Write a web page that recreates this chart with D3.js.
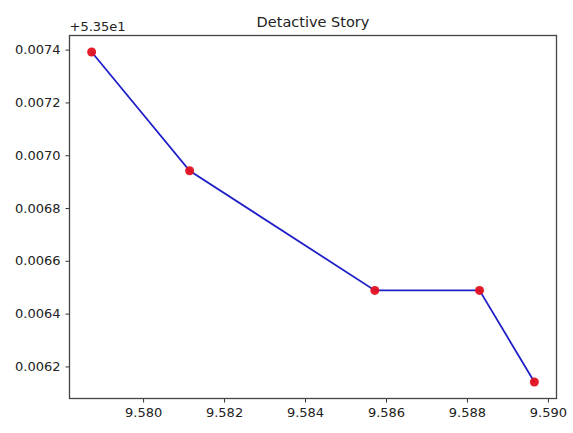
<!DOCTYPE html>
<html><head><meta charset="utf-8">
<script src="https://cdn.jsdelivr.net/npm/d3@7"></script>
<style>body{margin:0;background:#fff}svg{display:block}text{font-family:"DejaVu Sans",sans-serif}</style>
</head><body>
<script>
const title = "Detactive Story";
const offsetLabel = "+5.35e1";
const yOffset = 53.5;
const xValues = [9.578729, 9.581150, 9.585724, 9.588310, 9.589665];
const yValues = [53.507391, 53.506941, 53.506488, 53.506488, 53.506141];
const xTicks = [9.580, 9.582, 9.584, 9.586, 9.588, 9.590];
const yTicks = [0.0062, 0.0064, 0.0066, 0.0068, 0.0070, 0.0072, 0.0074];

const W = 573, H = 433;
const m = {left: 69.5, right: 556.5, top: 35.5, bottom: 398.5};
const svg = d3.select("body").append("svg").attr("width", W).attr("height", H);
svg.append("rect").attr("width", W).attr("height", H).attr("fill", "#fff");

const xr = d3.extent(xValues), yr = d3.extent(yValues.map(v => v - yOffset));
const xp = (xr[1]-xr[0])*0.05, yp = (yr[1]-yr[0])*0.05;
const x = d3.scaleLinear().domain([xr[0]-xp, xr[1]+xp]).range([m.left, m.right]);
const y = d3.scaleLinear().domain([yr[0]-yp, yr[1]+yp]).range([m.bottom, m.top]);

const xAxis = d3.axisBottom(x).tickValues(xTicks).tickFormat(d3.format(".3f")).tickSizeInner(4).tickSizeOuter(0).tickPadding(5);
const yAxis = d3.axisLeft(y).tickValues(yTicks).tickFormat(d3.format(".4f")).tickSizeInner(4).tickSizeOuter(0).tickPadding(5);

const gx = svg.append("g").attr("transform", `translate(0,${m.bottom})`).call(xAxis);
const gy = svg.append("g").attr("transform", `translate(${m.left},0)`).call(yAxis);
[gx, gy].forEach(g => {
  g.select(".domain").remove();
  g.selectAll(".tick line").attr("stroke", "#333");
  g.selectAll(".tick text").attr("fill", "#222").style("font-size", "13px").style("font-family", "DejaVu Sans");
});

svg.append("rect").attr("x", m.left).attr("y", m.top).attr("width", m.right-m.left).attr("height", m.bottom-m.top)
  .attr("fill", "none").attr("stroke", "#444").attr("stroke-width", 1.3);

const pts = xValues.map((v, i) => [v, yValues[i] - yOffset]);
svg.append("path").datum(pts)
  .attr("d", d3.line().x(d => x(d[0])).y(d => y(d[1])))
  .attr("fill", "none").attr("stroke", "#2020c8").attr("stroke-width", 1.8);
svg.selectAll("circle.pt").data(pts).join("circle").attr("class", "pt")
  .attr("cx", d => x(d[0])).attr("cy", d => y(d[1])).attr("r", 4.5).attr("fill", "#e0101e").attr("opacity", 0.95);

svg.append("text").attr("x", (m.left+m.right)/2).attr("y", 27).attr("text-anchor", "middle")
  .style("font-size", "14.5px").attr("fill", "#222").text(title);
svg.append("text").attr("x", m.left).attr("y", 31).attr("text-anchor", "start")
  .style("font-size", "13px").attr("fill", "#222").text(offsetLabel);
</script>
</body></html>
